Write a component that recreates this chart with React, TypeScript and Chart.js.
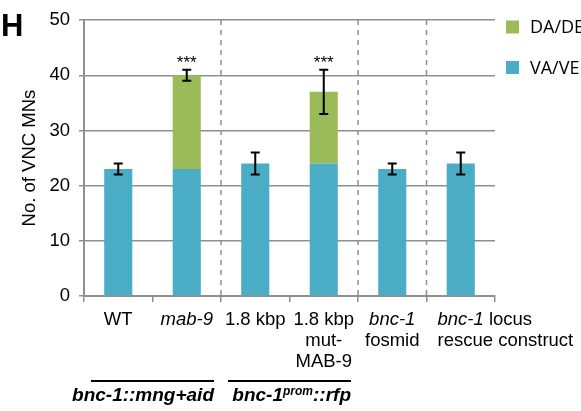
import React, { useEffect, useRef } from "react";
import { Chart, registerables } from "chart.js";

Chart.register(...registerables);

// Motor neuron counts in the ventral nerve cord
const categories = ["WT", "mab-9", "1.8 kbp", "1.8 kbp mut-MAB-9", "bnc-1 fosmid", "bnc-1 locus rescue construct"];
const vaVe = [23, 23, 24, 24, 23, 24];
const daDe = [0, 17, 0, 13, 0, 0];
const errors = [1, 1, 2, 4, 1, 2];
const significance = ["", "***", "", "***", "", ""];

type Seg = { text: string; italic?: boolean; sup?: boolean };

// Category labels, one array of segments per line
const tickLines: Seg[][][] = [
  [[{ text: "WT" }]],
  [[{ text: "mab-9", italic: true }]],
  [[{ text: "1.8 kbp" }]],
  [[{ text: "1.8 kbp" }], [{ text: "mut-" }], [{ text: "MAB-9" }]],
  [[{ text: "bnc-1", italic: true }], [{ text: "fosmid" }]],
  [[{ text: "bnc-1", italic: true }, { text: " locus" }], [{ text: "rescue construct" }]],
];

// Dashed separators sit after these category indices
const separatorsAfter = [1, 3, 4];

// Strain groups underlined beneath the categories
const groupFrom = [0, 2];
const groupTo = [1, 3];
const groupLabels: Seg[][] = [
  [{ text: "bnc-1::mng+aid" }],
  [{ text: "bnc-1" }, { text: "prom", sup: true }, { text: "::rfp" }],
];

const panelLetter = "H";
const yTitle = "No. of VNC MNs";

const BLUE = "#4BACC6";
const GREEN = "#9BBB59";
const GRID = "#8f8f8f";
const FONT = '"Liberation Sans", Arial, sans-serif';
const LEGEND_FONT = '"Open Sans", "Liberation Sans", sans-serif';

function segFont(s: Seg, size: number, bold = false) {
  return `${s.italic ? "italic " : ""}${bold ? "bold " : ""}${size}px ${FONT}`;
}

const decor = {
  id: "decor",
  afterDatasetsDraw(chart: any) {
    const { ctx, chartArea } = chart;
    const x = chart.scales.x;
    const y = chart.scales.y;
    const half = (x.getPixelForValue(1) - x.getPixelForValue(0)) / 2;
    ctx.save();

    // dashed separators between groups of categories
    ctx.strokeStyle = GRID;
    ctx.lineWidth = 1.5;
    ctx.setLineDash([5, 5]);
    separatorsAfter.forEach((i) => {
      const px = x.getPixelForValue(i) + half;
      ctx.beginPath();
      ctx.moveTo(px, chartArea.top);
      ctx.lineTo(px, chartArea.bottom);
      ctx.stroke();
    });
    ctx.setLineDash([]);

    // error bars and significance stars
    ctx.strokeStyle = "#000";
    ctx.fillStyle = "#000";
    ctx.lineWidth = 2;
    categories.forEach((_, i) => {
      const total = vaVe[i] + daDe[i];
      const cx = x.getPixelForValue(i);
      const top = y.getPixelForValue(total + errors[i]);
      const bot = y.getPixelForValue(total - errors[i]);
      ctx.beginPath();
      ctx.moveTo(cx, top);
      ctx.lineTo(cx, bot);
      ctx.moveTo(cx - 4.5, top);
      ctx.lineTo(cx + 4.5, top);
      ctx.moveTo(cx - 4.5, bot);
      ctx.lineTo(cx + 4.5, bot);
      ctx.stroke();
      if (significance[i]) {
        ctx.font = `17px ${FONT}`;
        ctx.textAlign = "center";
        ctx.textBaseline = "alphabetic";
        ctx.fillText(significance[i], cx, top - 2);
      }
    });
    ctx.restore();
  },
  afterDraw(chart: any) {
    const { ctx, chartArea } = chart;
    const x = chart.scales.x;
    const half = (x.getPixelForValue(1) - x.getPixelForValue(0)) / 2;
    ctx.save();
    ctx.fillStyle = "#000";
    ctx.textBaseline = "alphabetic";
    ctx.textAlign = "left";

    // panel letter
    ctx.font = `bold 31px ${FONT}`;
    ctx.fillText(panelLetter, 1, 36);

    // legend (top series first)
    const items = [
      { label: chart.data.datasets[1].label, color: chart.data.datasets[1].backgroundColor },
      { label: chart.data.datasets[0].label, color: chart.data.datasets[0].backgroundColor },
    ];
    items.forEach((it, k) => {
      const cy = 27 + k * 40.5;
      ctx.fillStyle = it.color;
      ctx.fillRect(chartArea.right + 11, cy - 6.5, 13, 13);
      ctx.fillStyle = "#000";
      ctx.font = `18px ${LEGEND_FONT}`;
      ctx.textBaseline = "middle";
      ctx.fillText(it.label, chartArea.right + 35, cy + 1);
    });
    ctx.textBaseline = "alphabetic";

    // category labels
    const size = 18.5;
    tickLines.forEach((lines, i) => {
      const cx = x.getPixelForValue(i);
      const widths = lines.map((line) =>
        line.reduce((w, s) => {
          ctx.font = segFont(s, size);
          return w + ctx.measureText(s.text).width;
        }, 0)
      );
      const widest = Math.max(...widths);
      const overflow = widest > half * 2;
      lines.forEach((line, li) => {
        let px = overflow ? cx - half + 11 : cx - widths[li] / 2;
        const py = chartArea.bottom + 29 + li * 21;
        line.forEach((s) => {
          ctx.font = segFont(s, size);
          ctx.fillText(s.text, px, py);
          px += ctx.measureText(s.text).width;
        });
      });
    });

    // group underlines and labels
    groupLabels.forEach((parts, g) => {
      const left = x.getPixelForValue(groupFrom[g]) - half + 7;
      const right = x.getPixelForValue(groupTo[g]) + half - 7;
      const ly = chartArea.bottom + 85;
      ctx.strokeStyle = "#000";
      ctx.lineWidth = 2;
      ctx.beginPath();
      ctx.moveTo(left, ly);
      ctx.lineTo(right, ly);
      ctx.stroke();

      const fontFor = (s: Seg) => `italic bold ${s.sup ? 12 : 19}px ${FONT}`;
      const total = parts.reduce((w, s) => {
        ctx.font = fontFor(s);
        return w + ctx.measureText(s.text).width;
      }, 0);
      let px = right - total;
      const by = chartArea.bottom + 105;
      parts.forEach((s) => {
        ctx.font = fontFor(s);
        ctx.fillText(s.text, px, s.sup ? by - 6 : by);
        px += ctx.measureText(s.text).width;
      });
    });
    ctx.restore();
  },
};

export default function App() {
  const canvasRef = useRef<HTMLCanvasElement | null>(null);

  useEffect(() => {
    document.body.style.margin = "0";
    const canvas = canvasRef.current;
    if (!canvas) return;
    const tickFont = { family: FONT, size: 18.5 };
    const chart = new Chart(canvas, {
      type: "bar",
      data: {
        labels: categories,
        datasets: [
          { label: "VA/VE", data: vaVe, backgroundColor: BLUE, stack: "mn" },
          { label: "DA/DE", data: daDe, backgroundColor: GREEN, stack: "mn" },
        ],
      },
      options: {
        responsive: false,
        animation: false,
        events: [],
        layout: { padding: { top: 20, right: 86, bottom: 0, left: 0 } },
        datasets: { bar: { barPercentage: 0.41, categoryPercentage: 1 } },
        plugins: { legend: { display: false }, tooltip: { enabled: false } },
        scales: {
          x: {
            stacked: true,
            grid: { display: true, drawOnChartArea: false, drawTicks: true, tickLength: 6, color: GRID, lineWidth: 1.5, offset: true },
            border: { color: GRID, width: 2 },
            ticks: { display: false },
            afterFit: (s: any) => {
              s.height = 115;
            },
          },
          y: {
            stacked: true,
            min: 0,
            max: 50,
            ticks: { stepSize: 10, font: tickFont, color: "#000", padding: 9 },
            grid: { color: GRID, lineWidth: 1.5, tickLength: 5 },
            border: { color: GRID, width: 2 },
            title: {
              display: true,
              text: yTitle,
              font: tickFont,
              color: "#000",
              padding: { top: 19, bottom: 0 },
            },
            afterFit: (s: any) => {
              s.width = 84;
            },
          },
        },
      },
      plugins: [decor],
    });
    return () => chart.destroy();
  }, []);

  return <canvas ref={canvasRef} width={581} height={411} style={{ display: "block" }} />;
}
